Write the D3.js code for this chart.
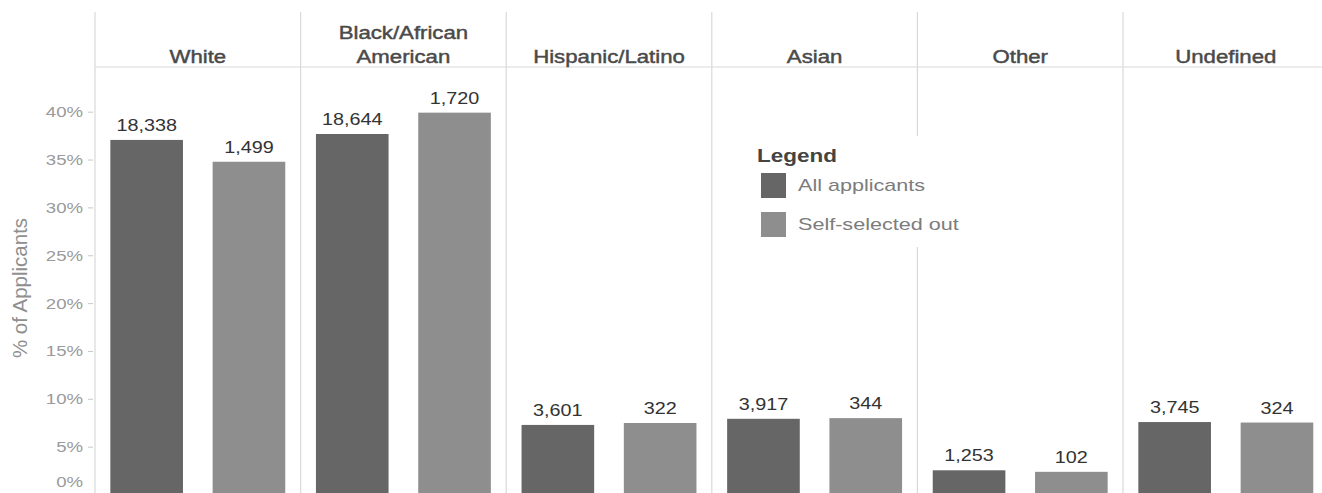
<!DOCTYPE html>
<html>
<head>
<meta charset="utf-8">
<script src="https://cdn.jsdelivr.net/npm/d3@7"></script>
<style>
  html, body { margin: 0; padding: 0; background: #fff; }
  svg { display: block; font-family: "Liberation Sans", Arial, sans-serif; }
</style>
</head>
<body>
<svg id="chart" width="1322" height="493"></svg>
<script>
// ---- data ----
const categories = ["White", "Black/African American", "Hispanic/Latino", "Asian", "Other", "Undefined"];
const headerLines = [["White"], ["Black/African", "American"], ["Hispanic/Latino"], ["Asian"], ["Other"], ["Undefined"]];
const seriesNames = ["All applicants", "Self-selected out"];
const allPct = [37.05, 37.67, 7.27, 7.91, 2.53, 7.57];
const selfPct = [34.77, 39.90, 7.47, 7.98, 2.37, 7.52];
const allCounts = [18338, 18644, 3601, 3917, 1253, 3745];
const selfCounts = [1499, 1720, 322, 344, 102, 324];
const yTicks = [0, 5, 10, 15, 20, 25, 30, 35, 40];
const yTitle = "% of Applicants";
const legendTitle = "Legend";

const colors = { "All applicants": "#666666", "Self-selected out": "#8e8e8e" };
const SX = 1.2; // horizontal text stretch

const svg = d3.select("#chart");
const plotLeft = 95, panelW = 205.6;
const x0 = d3.scaleBand().domain(categories).range([plotLeft, plotLeft + panelW * categories.length]).padding(0);
const x1 = d3.scaleBand().domain(seriesNames).range([0, panelW]).paddingInner(0.29).paddingOuter(0.15);
const y = d3.scaleLinear().domain([0, 40]).range([494.5, 111.7]);

const headerBottom = 67, lineTop = 12;

// dividers
const dividers = categories.map(c => x0(c));
svg.append("g").selectAll("line").data(dividers).join("line")
  .attr("x1", d => d).attr("x2", d => d)
  .attr("y1", lineTop).attr("y2", 493)
  .attr("stroke", "#d9d9d9").attr("stroke-width", 1.2);
svg.append("line").attr("x1", plotLeft).attr("x2", 1322)
  .attr("y1", headerBottom).attr("y2", headerBottom)
  .attr("stroke", "#d9d9d9").attr("stroke-width", 1.2);

// headers
const hdr = svg.append("g");
categories.forEach((c, i) => {
  const cx = x0(c) + x0.bandwidth() / 2;
  const lines = headerLines[i];
  lines.forEach((t, j) => {
    const by = 63 - (lines.length - 1 - j) * 24;
    hdr.append("text")
      .attr("transform", `translate(${cx},${by}) scale(${SX},1)`)
      .attr("text-anchor", "middle")
      .attr("font-size", 18.5)
      .attr("fill", "#4a4a4a")
      .attr("stroke", "#4a4a4a")
      .attr("stroke-width", 0.45)
      .text(t);
  });
});

// y axis
const yAxis = svg.append("g").attr("transform", `translate(93,0)`)
  .call(d3.axisLeft(y).tickValues(yTicks).tickFormat(d => d + "%").tickSize(5).tickSizeOuter(0));
yAxis.select(".domain").remove();
yAxis.selectAll(".tick line").attr("stroke", "#c8c8c8");
yAxis.selectAll(".tick text")
  .attr("x", 0)
  .attr("fill", "#9a9a9a")
  .attr("font-size", 15.5)
  .attr("font-family", "Liberation Sans, Arial, sans-serif")
  .attr("transform", d => `translate(-10,${d === 0 ? -13 : 0}) scale(${SX},1)`);
yAxis.selectAll(".tick").filter(d => d === 0).select("line").remove();

svg.append("text")
  .attr("transform", `translate(27,288) rotate(-90)`)
  .attr("text-anchor", "middle")
  .attr("font-size", 20.5)
  .attr("fill", "#8f8f8f")
  .text(yTitle);

// bars
const rows = categories.map((c, i) => [
  { cat: c, s: seriesNames[0], v: allPct[i], n: allCounts[i] },
  { cat: c, s: seriesNames[1], v: selfPct[i], n: selfCounts[i] }
]).flat();

svg.append("g").selectAll("rect").data(rows).join("rect")
  .attr("x", d => x0(d.cat) + x1(d.s))
  .attr("width", x1.bandwidth())
  .attr("y", d => y(d.v))
  .attr("height", d => y(0) - y(d.v))
  .attr("fill", d => colors[d.s]);

svg.append("g").selectAll("text").data(rows).join("text")
  .attr("transform", d => `translate(${x0(d.cat) + x1(d.s) + x1.bandwidth() / 2},${y(d.v) - 9}) scale(${SX},1)`)
  .attr("text-anchor", "middle")
  .attr("font-size", 16.5)
  .attr("fill", "#333")
  .text(d => d3.format(",")(d.n));

// legend
const lg = svg.append("g");
lg.append("rect").attr("x", 745).attr("y", 136).attr("width", 232).attr("height", 111).attr("fill", "#fff");
lg.append("text")
  .attr("transform", `translate(757,162) scale(1.25,1)`)
  .attr("font-size", 18).attr("font-weight", "bold").attr("fill", "#444")
  .text(legendTitle);
seriesNames.forEach((s, i) => {
  const yy = 173 + i * 39;
  lg.append("rect").attr("x", 761).attr("y", yy).attr("width", 25).attr("height", 25).attr("fill", colors[s]);
  lg.append("text")
    .attr("transform", `translate(798,${yy + 18}) scale(1.27,1)`)
    .attr("font-size", 17).attr("fill", "#7c7c7c")
    .text(s);
});
</script>
</body>
</html>
